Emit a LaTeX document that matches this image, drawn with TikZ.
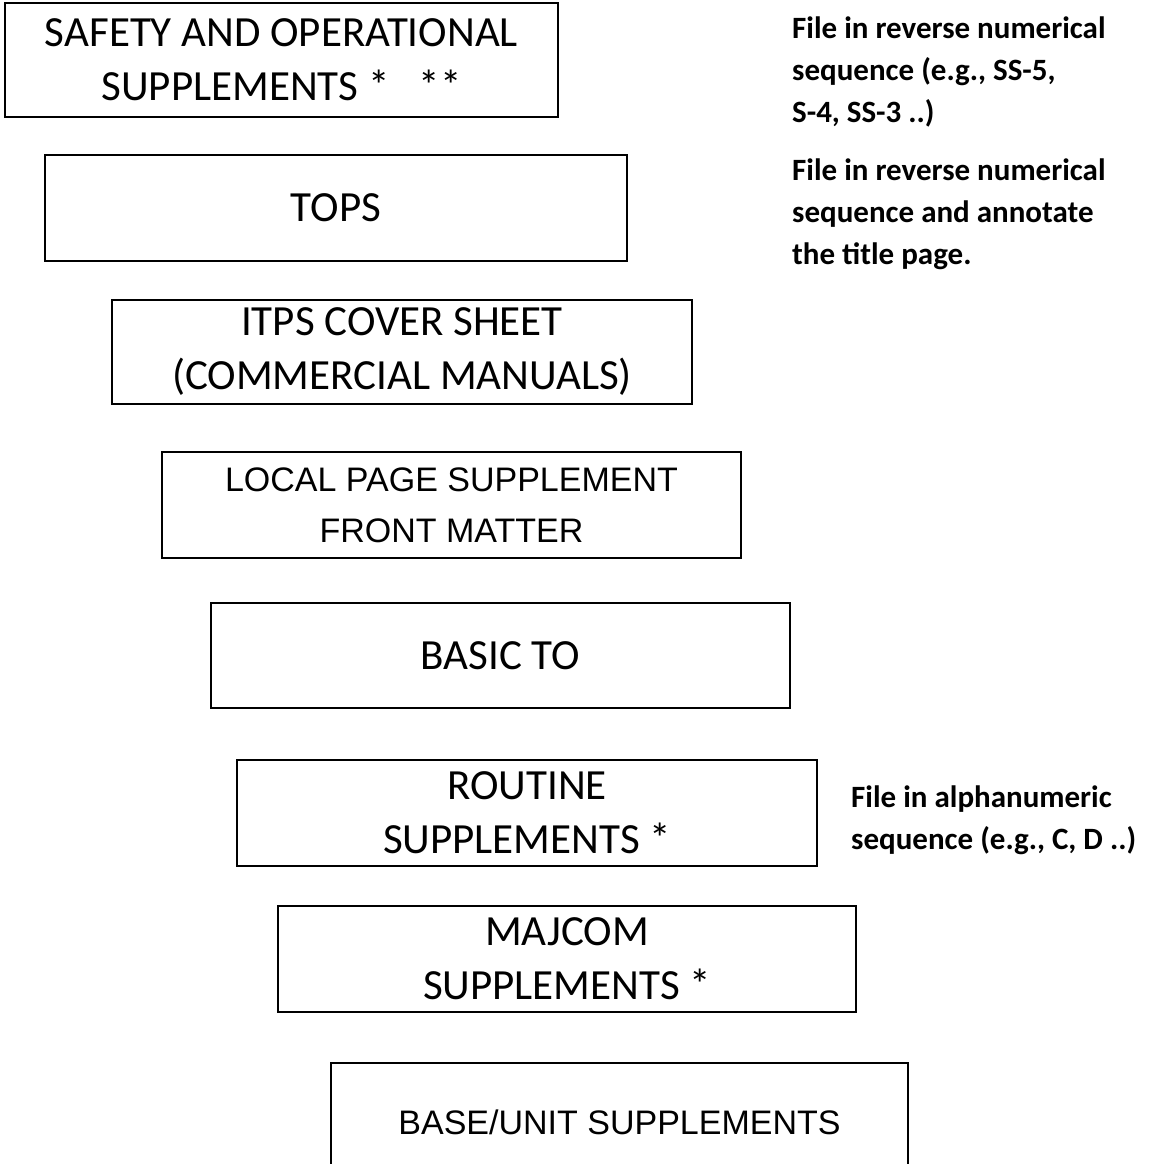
\documentclass[tikz,border=0pt]{standalone}
\usepackage{fontspec}
\setmainfont{Carlito}
\newfontfamily\arialf{Liberation Sans}
\begin{document}
\begin{tikzpicture}[x=1pt,y=-1pt,
  box/.style={draw, line width=1.8pt, inner sep=0pt, align=center},
  cal/.style={font=\fontsize{43}{54}\selectfont},
  ari/.style={font=\arialf\fontsize{34}{51}\selectfont},
  note/.style={font=\bfseries\fontsize{31}{42}\selectfont, align=left, anchor=base west, inner sep=0pt}]
\useasboundingbox (0,0) rectangle (1174,1163);
\node[box, cal, minimum width=553pt, minimum height=114pt] (safety) at (281.5,60) {SAFETY AND OPERATIONAL\\SUPPLEMENTS *\ \ \ **};
\node[box, cal, minimum width=582pt, minimum height=106pt] (tops) at (336,208) {TOPS};
\node[box, cal, minimum width=580pt, minimum height=104pt] (itps) at (402,352) {ITPS COVER SHEET\\(COMMERCIAL MANUALS)};
\node[box, ari, minimum width=579pt, minimum height=106pt] (local) at (451.5,505) {LOCAL PAGE SUPPLEMENT\\FRONT MATTER};
\node[box, cal, minimum width=579pt, minimum height=105pt] (basic) at (500.5,655.5) {BASIC TO};
\node[box, cal, minimum width=580pt, minimum height=106pt] (routine) at (527,813) {ROUTINE\\SUPPLEMENTS *};
\node[box, cal, minimum width=578pt, minimum height=106pt] (majcom) at (567,959) {MAJCOM\\SUPPLEMENTS *};
\node[box, ari, minimum width=577pt, minimum height=118pt] (base) at (619.5,1122) {BASE/UNIT SUPPLEMENTS};
\node[note] (n1) at (792,122) {File in reverse numerical\\sequence (e.g., SS-5,\\S-4, SS-3 ..)};
\node[note] (n2) at (792,264) {File in reverse numerical\\sequence and annotate\\the title page.};
\node[note] (n3) at (851,849) {File in alphanumeric\\sequence (e.g., C, D ..)};
\end{tikzpicture}
\end{document}
